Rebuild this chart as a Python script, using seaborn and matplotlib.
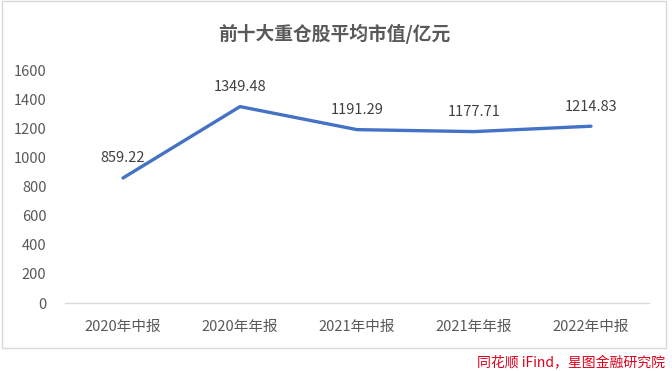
import pandas as pd
import seaborn as sns
import matplotlib.pyplot as plt
from matplotlib.patches import Rectangle

# data
periods = ["2020年中报", "2020年年报", "2021年中报", "2021年年报", "2022年中报"]
avg_cap = [859.22, 1349.48, 1191.29, 1177.71, 1214.83]
y_ticks = [0, 200, 400, 600, 800, 1000, 1200, 1400, 1600]

title = "前十大重仓股平均市值/亿元"
source = "同花顺 iFind，星图金融研究院"

df = pd.DataFrame({"period": periods, "value": avg_cap})

sns.set_style("white")
plt.rcParams["font.family"] = ["Noto Sans CJK SC", "DejaVu Sans"]

fig = plt.figure(figsize=(6.72, 3.71), dpi=100)
ax = fig.add_axes([0.096, 0.183, 0.8705, 0.628])

sns.lineplot(data=df, x="period", y="value", color="#4472C4", linewidth=2.4,
             ax=ax, sort=False)

for i, v in enumerate(avg_cap):
    ax.annotate(f"{v:.2f}", (i, v), xytext=(0, 9), textcoords="offset points",
                ha="center", va="bottom", fontsize=10.5, color="#404040")

ax.set_xlim(-0.5, len(periods) - 0.5)
ax.set_ylim(0, 1600)
ax.set_yticks(y_ticks)
ax.set_xlabel("")
ax.set_ylabel("")
ax.tick_params(axis="both", length=0, labelsize=10.5, labelcolor="#595959")
ax.tick_params(axis="y", pad=13)
ax.tick_params(axis="x", pad=12)

for side in ["top", "right", "left"]:
    ax.spines[side].set_visible(False)
ax.spines["bottom"].set_color("#D9D9D9")
ax.spines["bottom"].set_linewidth(1)

fig.text(0.498, 0.91, title, ha="center", va="center", fontsize=13.5,
         fontweight="bold", color="#595959")

# chart border
fig.patches.append(Rectangle((0.003, 0.062), 0.988, 0.935, transform=fig.transFigure,
                             fill=False, edgecolor="#D9D9D9", linewidth=1))

fig.text(0.99, 0.022, source, ha="right", va="center", fontsize=10,
         color="#E0001B", style="italic")

fig.savefig("out.png", dpi=100)
